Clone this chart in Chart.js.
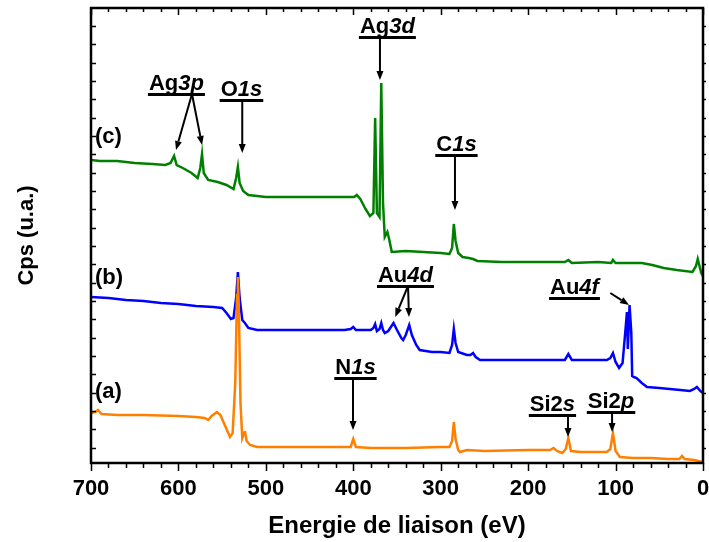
<!DOCTYPE html>
<html>
<head>
<meta charset="utf-8">
<script src="https://cdn.jsdelivr.net/npm/chart.js@4"></script>
<style>
  html, body { margin: 0; padding: 0; background: #fff; }
  canvas { display: block; }
</style>
</head>
<body>
<canvas id="myChart" width="709" height="542"></canvas>
<script>
// spectra (binding energy in eV, counts in arbitrary units)
var energyA = [700,695,692,688,670,640,600,580,570,566,562,556,552,548,544,541,538,535,533,532,531,529,527,525,524,522,518,510,450,410,403,400,397,380,340,300,290,287,285,283,280,278,270,250,200,175,171,167,161,157,154,151,140,120,110,106,103,100,95,80,60,40,27,24,21,10,0];
var countsA = [50,51,53,49,48,48,47,46,45,43,47,51,48,40,32,26,30,80,168,186,158,60,25,30,32,22,18,16,16,16,16,24,16,15,15,16,16,22,41,24,13,11,13,12,13,13,15,12,10,14,25,12,11,11,11,14,30,12,6,5,5,4,4,7,4,3,1];

var energyB = [700,680,660,640,620,600,580,560,550,545,540,537,534,532,530,527,524,520,510,450,410,403,400,397,380,377,375,373,370,368,366,364,360,354,350,345,343,340,336,333,328,324,310,300,290,287,285,283,280,270,266,263,260,255,200,158,154,150,110,106,103,100,96,92,89,87,86,85,84,82,81,79,76,70,64,50,26,15,10,7,3,0];
var countsB = [166,165,163,162,160,159,157,156,155,150,144,145,165,191,165,143,140,135,133,133,133,134,136,133,133,135,139,132,134,140,133,130,132,140,133,125,123,128,138,128,118,113,111,111,110,118,134,120,111,108,108,110,106,103,103,103,109,103,103,105,110,101,95,100,130,151,114,135,158,130,87,86,85,80,76,75,73,72,74,76,72,70];

var energyC = [700,690,670,650,630,615,609,605,602,595,585,578,575,573,571,566,555,545,537,534,532,530,526,520,500,450,410,399,396,392,386,381,377,375,373,370,368,366,364,361,359,356,340,320,300,290,287,285,283,280,275,268,263,258,230,200,158,154,150,120,105,103,100,80,70,58,45,30,12,8,6,4,2,0];
var countsC = [303,302,302,300,299,298,300,307,298,295,290,285,295,309,290,283,281,278,274,285,296,280,272,268,266,266,266,266,268,264,254,247,250,345,250,246,380,260,226,231,224,211,212,211,210,209,215,239,222,210,206,205,204,202,201,201,201,203,200,201,200,203,200,200,200,198,195,193,191,197,204,197,190,187];

var xTicks = [700, 600, 500, 400, 300, 200, 100, 0];
var seriesNames = ["(a)", "(b)", "(c)"];
var seriesColors = ["#ff8000", "#0000ff", "#008000"];

// peak labels: text parts [text, italic], underline centre (eV, counts), arrows [fromE, fromY, toE, toY]
var peakLabels = [
  { parts: [["Ag", 0], ["3p", 1]], x: 602.3, y: 369, arrows: [[584.5, 369, 602.8, 313], [584.5, 369, 573, 318]] },
  { parts: [["O", 0], ["1s", 1]], x: 527.9, y: 363, arrows: [[527, 363, 527, 310]] },
  { parts: [["Ag", 0], ["3d", 1]], x: 361, y: 426, arrows: [[369.5, 426, 369.5, 383]] },
  { parts: [["C", 0], ["1s", 1]], x: 282, y: 308, arrows: [[283.7, 308, 283.7, 253]] },
  { parts: [["Au", 0], ["4d", 1]], x: 340.3, y: 177, arrows: [[337.4, 177, 352, 146], [337.4, 177, 336.3, 146]] },
  { parts: [["Au", 0], ["4f", 1]], x: 147, y: 165, arrows: [[106, 170, 84.6, 158]] },
  { parts: [["N", 0], ["1s", 1]], x: 397.5, y: 85, arrows: [[400.3, 85, 400.3, 33]] },
  { parts: [["Si2", 0], ["s", 1]], x: 172.2, y: 48, arrows: [[154.4, 48, 154.4, 26]] },
  { parts: [["Si2", 0], ["p", 1]], x: 105.2, y: 51, arrows: [[104, 51, 104, 31]] },
];
var seriesLabelPos = [[695.4, 71], [695.4, 185], [695.4, 326]];

function toPoints(xs, ys) {
  return xs.map((x, i) => ({ x: x, y: ys[i] }));
}

const FONT = '"Liberation Sans", Arial, sans-serif';

function drawArrow(ctx, x1, y1, x2, y2) {
  const ang = Math.atan2(y2 - y1, x2 - x1);
  const head = 9, half = 3.5;
  const bx = x2 - head * Math.cos(ang), by = y2 - head * Math.sin(ang);
  ctx.beginPath();
  ctx.moveTo(x1, y1);
  ctx.lineTo(bx, by);
  ctx.stroke();
  ctx.beginPath();
  ctx.moveTo(x2, y2);
  ctx.lineTo(bx + half * Math.sin(ang), by - half * Math.cos(ang));
  ctx.lineTo(bx - half * Math.sin(ang), by + half * Math.cos(ang));
  ctx.closePath();
  ctx.fill();
}

const framePlugin = {
  id: "frame",
  afterDraw(chart) {
    const ctx = chart.ctx;
    const a = chart.chartArea;
    const xs = chart.scales.x, ys = chart.scales.y;
    ctx.save();
    ctx.strokeStyle = "#000";
    ctx.fillStyle = "#000";
    ctx.lineWidth = 2.5;
    ctx.strokeRect(a.left, a.top, a.right - a.left, a.bottom - a.top);

    // x ticks every 20 eV, majors every 100
    ctx.lineWidth = 1.5;
    for (let e = 0; e <= 700; e += 20) {
      const px = Math.round(xs.getPixelForValue(e)) + 0.5;
      const len = e % 100 === 0 ? 8 : 5;
      ctx.beginPath();
      ctx.moveTo(px, a.bottom);
      ctx.lineTo(px, a.bottom + len);
      ctx.moveTo(px, a.top);
      ctx.lineTo(px, a.top + len - 1);
      ctx.stroke();
    }
    // y ticks (no labels)
    ys.ticks.forEach((t) => {
      const py = Math.round(ys.getPixelForValue(t.value)) + 0.5;
      ctx.beginPath();
      ctx.moveTo(a.left, py);
      ctx.lineTo(a.left + 5, py);
      ctx.moveTo(a.right, py);
      ctx.lineTo(a.right + 3, py);
      ctx.stroke();
    });

    // peak labels
    ctx.lineWidth = 2;
    peakLabels.forEach((p) => {
      const cx = xs.getPixelForValue(p.x);
      const uy = ys.getPixelForValue(p.y);
      let w = 0;
      const widths = p.parts.map((pt) => {
        ctx.font = (pt[1] ? "italic " : "") + "bold 22px " + FONT;
        const m = ctx.measureText(pt[0]).width;
        w += m;
        return m;
      });
      let x0 = cx - w / 2;
      ctx.textBaseline = "alphabetic";
      ctx.textAlign = "left";
      p.parts.forEach((pt, i) => {
        ctx.font = (pt[1] ? "italic " : "") + "bold 22px " + FONT;
        ctx.fillText(pt[0], x0, uy - 4);
        x0 += widths[i];
      });
      ctx.fillRect(cx - w / 2 - 1, uy - 1, w + 2, 3);
      p.arrows.forEach((ar) => {
        drawArrow(ctx, xs.getPixelForValue(ar[0]), ys.getPixelForValue(ar[1]),
          xs.getPixelForValue(ar[2]), ys.getPixelForValue(ar[3]));
      });
    });

    // (a) (b) (c)
    ctx.font = "bold 22px " + FONT;
    ctx.textBaseline = "middle";
    ctx.textAlign = "left";
    seriesNames.forEach((n, i) => {
      ctx.fillText(n, xs.getPixelForValue(seriesLabelPos[i][0]), ys.getPixelForValue(seriesLabelPos[i][1]));
    });
    ctx.restore();
  },
};

function initChart() {
  const ctx = document.getElementById("myChart").getContext("2d");
  new Chart(ctx, {
    type: "line",
    data: {
      datasets: [
        { label: seriesNames[0], data: toPoints(energyA, countsA), borderColor: seriesColors[0] },
        { label: seriesNames[1], data: toPoints(energyB, countsB), borderColor: seriesColors[1] },
        { label: seriesNames[2], data: toPoints(energyC, countsC), borderColor: seriesColors[2] },
      ],
    },
    options: {
      responsive: false,
      animation: false,
      devicePixelRatio: 1,
      layout: { padding: { top: 8, right: 6, left: 0, bottom: 0 } },
      elements: {
        point: { radius: 0 },
        line: { borderWidth: 2.5, tension: 0 },
      },
      plugins: { legend: { display: false }, tooltip: { enabled: false } },
      scales: {
        x: {
          type: "linear",
          reverse: true,
          min: 0,
          max: 700,
          afterBuildTicks: (s) => { s.ticks = xTicks.map((v) => ({ value: v })); },
          ticks: {
            color: "#000",
            padding: 13,
            maxRotation: 0,
            autoSkip: false,
            font: { family: FONT, size: 22, weight: "bold" },
          },
          grid: { display: false, drawTicks: false },
          border: { display: false },
          title: {
            display: true,
            text: "Energie de liaison (eV)",
            color: "#000",
            font: { family: FONT, size: 24, weight: "bold" },
            padding: { top: 0, bottom: 1 },
          },
          afterFit: (s) => {
            s.height = 79;
            s.paddingLeft = 0;
            s.paddingRight = 0;
          },
        },
        y: {
          min: 0,
          max: 455,
          afterBuildTicks: (s) => {
            const t = [];
            for (let k = 0; k < 24; k++) t.push({ value: 437 - k * 18.33 });
            s.ticks = t;
          },
          ticks: { display: false },
          grid: { display: false, drawTicks: false },
          border: { display: false },
          title: {
            display: true,
            text: "Cps (u.a.)",
            color: "#000",
            font: { family: FONT, size: 22, weight: "bold" },
            padding: { top: 14, bottom: 0 },
          },
          afterFit: (s) => { s.width = 91; },
        },
      },
    },
    plugins: [framePlugin],
  });
}

initChart();
</script>
</body>
</html>
